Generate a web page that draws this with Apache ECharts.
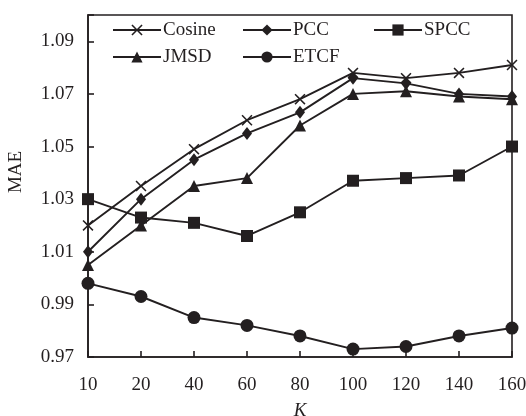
<!DOCTYPE html>
<html>
<head>
<meta charset="utf-8">
<script src="https://cdn.jsdelivr.net/npm/echarts@6/dist/echarts.min.js"></script>
<style>
  html, body { margin: 0; padding: 0; background: #fff; }
  #chart { width: 526px; height: 416px; }
</style>
</head>
<body>
<div id="chart"></div>
<script>
// Neighbourhood size K on the x axis
var kValues = ['10', '20', '40', '60', '80', '100', '120', '140', '160'];

// MAE per similarity measure
var cosine = [1.020, 1.035, 1.049, 1.060, 1.068, 1.078, 1.076, 1.078, 1.081];
var pcc    = [1.010, 1.030, 1.045, 1.055, 1.063, 1.076, 1.074, 1.070, 1.069];
var spcc   = [1.030, 1.023, 1.021, 1.016, 1.025, 1.037, 1.038, 1.039, 1.050];
var jmsd   = [1.005, 1.020, 1.035, 1.038, 1.058, 1.070, 1.071, 1.069, 1.068];
var etcf   = [0.998, 0.993, 0.985, 0.982, 0.978, 0.973, 0.974, 0.978, 0.981];

// Labelled ticks on the MAE axis
var yTickLabels = ['0.97', '0.99', '1.01', '1.03', '1.05', '1.07', '1.09'];

var INK = '#231f20';
var FONT = "'Liberation Serif', 'Times New Roman', serif";
var CROSS = 'path://M0,1 L1,0 L5,4 L9,0 L10,1 L6,5 L10,9 L9,10 L5,6 L1,10 L0,9 L4,5 Z';

function lineSeries(name, data, symbol, size) {
  return {
    name: name,
    type: 'line',
    data: data,
    symbol: symbol,
    symbolSize: size,
    showAllSymbol: true,
    lineStyle: { color: INK, width: 1.9 },
    itemStyle: { color: INK },
    emphasis: { disabled: true },
    animation: false
  };
}

function legendColumn(left, names) {
  return {
    left: left,
    top: 20,
    orient: 'vertical',
    padding: 0,
    itemWidth: 48,
    itemHeight: 14,
    itemGap: 7,
    data: names,
    textStyle: { fontFamily: FONT, fontSize: 19, color: INK, lineHeight: 20, padding: [0, 0, 0, -3] }
  };
}

var chart = echarts.init(document.getElementById('chart'), null, { renderer: 'canvas' });

chart.setOption({
  backgroundColor: '#fff',
  animation: false,
  grid: {
    left: 88, right: 14, top: 15, bottom: 59,
    containLabel: false,
    outerBoundsMode: 'none',
    show: true, borderColor: INK, borderWidth: 1.6, backgroundColor: 'transparent'
  },
  legend: [
    legendColumn(112, ['Cosine', 'JMSD']),
    legendColumn(242, ['PCC', 'ETCF']),
    legendColumn(373, ['SPCC'])
  ],
  xAxis: {
    type: 'category',
    data: kValues,
    boundaryGap: false,
    name: 'K',
    nameLocation: 'middle',
    nameGap: 44,
    nameTextStyle: { fontFamily: FONT, fontSize: 19, fontStyle: 'italic', color: INK },
    axisLine: { lineStyle: { color: INK, width: 1.6 } },
    axisTick: { inside: true, length: 6, lineStyle: { color: INK, width: 1.6 } },
    axisLabel: { fontFamily: FONT, fontSize: 19, color: INK, margin: 19 },
    splitLine: { show: false }
  },
  yAxis: {
    type: 'value',
    min: 0.97,
    max: 1.10,
    interval: 0.02,
    axisLine: { show: true, lineStyle: { color: INK, width: 1.6 } },
    axisTick: { show: true, inside: true, length: 6, lineStyle: { color: INK, width: 1.6 } },
    axisLabel: {
      fontFamily: FONT, fontSize: 19, color: INK, margin: 14,
      formatter: function (v) {
        var s = v.toFixed(2);
        return yTickLabels.indexOf(s) >= 0 ? s : '';
      }
    },
    splitLine: { show: false }
  },
  graphic: [{
    type: 'text',
    x: 16, y: 172,
    rotation: Math.PI / 2,
    style: { text: 'MAE', font: '19px ' + FONT, fill: INK, align: 'center', verticalAlign: 'middle' }
  }],
  series: [
    lineSeries('Cosine', cosine, CROSS, 11),
    lineSeries('PCC', pcc, 'diamond', [10, 13]),
    lineSeries('SPCC', spcc, 'rect', 12),
    lineSeries('JMSD', jmsd, 'triangle', 12),
    lineSeries('ETCF', etcf, 'circle', 13)
  ]
});
</script>
</body>
</html>
